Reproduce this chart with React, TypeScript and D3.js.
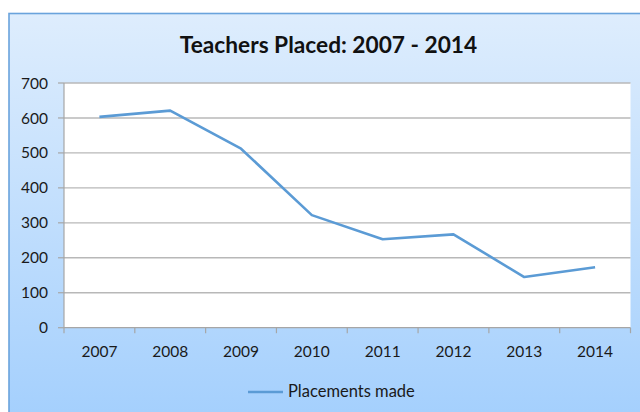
import React from 'react';
import * as d3 from 'd3';

const years = ['2007', '2008', '2009', '2010', '2011', '2012', '2013', '2014'];
const placements = [603, 621, 512, 322, 253, 267, 145, 173];
const yTicks = [0, 100, 200, 300, 400, 500, 600, 700];
const seriesName = 'Placements made';
const chartTitle = 'Teachers Placed: 2007 - 2014';

const width = 640;
const height = 412;
const plot = { left: 64, right: 630.5, top: 83, bottom: 327.7 };
const font = 'Lato, "Open Sans", sans-serif';
const lineColor = '#5b9bd5';

export default function App() {
    const x = d3.scaleBand<string>()
        .domain(years)
        .range([plot.left, plot.right]);

    const y = d3.scaleLinear()
        .domain([0, 700])
        .range([plot.bottom, plot.top]);

    const line = d3.line<number>()
        .x((_d, i) => (x(years[i]) ?? 0) + x.bandwidth() / 2)
        .y(d => y(d));

    // tick marks sit on the category boundaries
    const boundaries = [...years.map(yr => x(yr) ?? 0), plot.right];

    return (
        <div style={{ position: 'absolute', left: 0, top: 0 }}>
            <svg width={width} height={height} style={{ display: 'block' }}>
                <defs>
                    <linearGradient id="bg" x1="0" y1="0" x2="0" y2="1">
                        <stop offset="0%" stopColor="#deedfd" />
                        <stop offset="100%" stopColor="#a3cffd" />
                    </linearGradient>
                </defs>
                <rect width={width} height={height} fill="#ffffff" />
                <rect x={9} y={13.5} width={width} height={height} fill="url(#bg)"
                    stroke="#6aa3dc" strokeWidth={1.6} />

                <text x={328.5} y={53} textAnchor="middle" fontFamily={font}
                    fontWeight="bold" fontSize={22.7} fill="#111">{chartTitle}</text>

                {/* plot area */}
                <rect x={plot.left} y={plot.top} width={plot.right - plot.left}
                    height={plot.bottom - plot.top} fill="#ffffff" />

                {yTicks.map(t => (
                    <g key={t}>
                        {t > 0 && (
                            <line x1={plot.left} x2={plot.right} y1={y(t)} y2={y(t)}
                                stroke="#b8b8b8" strokeWidth={1.4} />
                        )}
                        <line x1={plot.left - 6} x2={plot.left} y1={y(t)} y2={y(t)}
                            stroke="#a6a6a6" strokeWidth={1.2} />
                        <text x={48} y={y(t)} dy="0.36em" textAnchor="end"
                            fontFamily={font} fontSize={15.5} fill="#1a1a1a">{t}</text>
                    </g>
                ))}

                <line x1={plot.left} x2={plot.left} y1={plot.top} y2={plot.bottom}
                    stroke="#a6a6a6" strokeWidth={1.2} />
                <line x1={plot.left} x2={plot.right} y1={plot.bottom} y2={plot.bottom}
                    stroke="#a6a6a6" strokeWidth={1.2} />

                {boundaries.map((bx, i) => (
                    <line key={i} x1={bx} x2={bx} y1={plot.bottom} y2={plot.bottom + 5.5}
                        stroke="#a6a6a6" strokeWidth={1.2} />
                ))}

                {years.map(yr => (
                    <text key={yr} x={(x(yr) ?? 0) + x.bandwidth() / 2} y={357}
                        textAnchor="middle" fontFamily={font} fontSize={15.5}
                        fill="#1a1a1a">{yr}</text>
                ))}

                <path d={line(placements) ?? ''} fill="none" stroke={lineColor}
                    strokeWidth={2.6} strokeLinejoin="round" />

                {/* legend */}
                <line x1={248} x2={283} y1={392} y2={392} stroke={lineColor} strokeWidth={2.6} />
                <text x={288} y={397} fontFamily={font} fontSize={16.5} fill="#1a1a1a">{seriesName}</text>
            </svg>
        </div>
    );
}
